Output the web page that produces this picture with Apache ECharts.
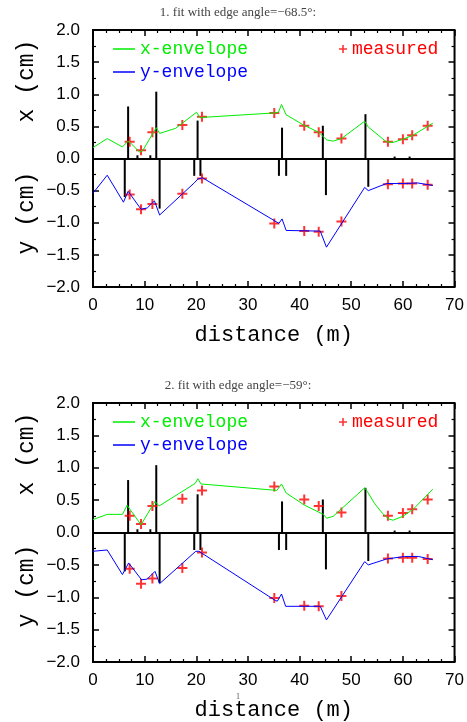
<!DOCTYPE html>
<html>
<head>
<meta charset="utf-8">
<script src="https://cdn.jsdelivr.net/npm/echarts@6/dist/echarts.min.js"></script>
<style>
    html, body { margin: 0; padding: 0; background: #fff; }
    #envelopeChart { width: 467px; height: 722px; }
</style>
</head>
<body>
<div id="envelopeChart"></div>
<script>
// magnet markers (positions in m, heights in cm)
const magnetDist = [6.8, 8.6, 11.1, 12.25, 20.25, 36.6, 44.5, 52.75, 58.4, 61.3,
                    6.15, 12.9, 19.6, 20.8, 36.0, 37.4, 45.1, 53.3];
const magnetVal = [0.81, 0.05, 0.05, 1.04, 0.59, 0.48, 0.51, 0.69, 0.03, 0.03,
                   -0.6, -0.78, -0.27, -0.27, -0.27, -0.27, -0.57, -0.44];

// measured beam sizes
const measDist = [7.1, 9.3, 11.5, 17.3, 21.1, 35.1, 40.9, 43.7, 48.1, 57.1, 60.0, 61.8, 64.8];
const measX = [0.26, 0.13, 0.41, 0.52, 0.65, 0.71, 0.51, 0.41, 0.31, 0.26, 0.30, 0.36, 0.51];
const measY = [-0.56, -0.79, -0.71, -0.55, -0.31, -1.01, -1.13, -1.14, -0.98, -0.40, -0.39, -0.39, -0.41];

// fit 1 (edge angle -68.5)
const xEnv1Dist = [0, 2.75, 5.7, 6.8, 7.3, 9.0, 9.6, 12.25, 12.9, 16, 20.05, 20.8, 21.2, 35.3, 35.9, 36.5, 37.4,
                   40.8, 43.65, 45.25, 46.5, 48.1, 52.6, 53.3, 56.8, 58.1, 60.0, 61.9, 65.8];
const xEnv1Val = [0.17, 0.31, 0.18, 0.27, 0.24, 0.1, 0.12, 0.48, 0.39, 0.47, 0.72, 0.63, 0.64, 0.71, 0.72, 0.84, 0.68,
                  0.52, 0.41, 0.29, 0.27, 0.31, 0.58, 0.49, 0.26, 0.25, 0.30, 0.36, 0.55];
const yEnv1Dist = [0, 2.75, 5.9, 6.8, 9.3, 10.5, 11.9, 12.9, 19.6, 20.3, 21.2, 36.0, 36.6, 37.4,
                   44.0, 45.2, 52.6, 53.3, 56.8, 60.3, 62.8, 65.8];
const yEnv1Val = [-0.54, -0.26, -0.68, -0.51, -0.79, -0.77, -0.66, -0.88, -0.38, -0.32, -0.3, -1.01, -0.94, -1.12,
                  -1.13, -1.38, -0.45, -0.5, -0.39, -0.39, -0.38, -0.42];

// fit 2 (edge angle -59)
const xEnv2Dist = [0, 2.75, 5.7, 6.6, 9.3, 12.0, 12.8, 19.8, 20.3, 20.9, 35.6, 36.5, 37.4, 41.0,
                   44.6, 45.25, 46.5, 52.6, 53.3, 54.5, 56.0, 57.2, 58.1, 60.0, 62.0, 65.8];
const xEnv2Val = [0.2, 0.28, 0.28, 0.42, 0.12, 0.48, 0.41, 0.76, 0.83, 0.75, 0.65, 0.75, 0.61, 0.42,
                  0.28, 0.22, 0.25, 0.69, 0.61, 0.45, 0.3, 0.21, 0.19, 0.25, 0.36, 0.67];
const yEnv2Dist = [0, 2.75, 5.7, 6.9, 9.4, 10.5, 12.0, 12.9, 19.9, 20.5, 35.3, 35.7, 36.5, 37.3,
                   44.0, 45.2, 52.6, 53.3, 56.8, 60.3, 63.0, 65.8];
const yEnv2Val = [-0.29, -0.27, -0.65, -0.47, -0.73, -0.72, -0.6, -0.79, -0.29, -0.29, -1.05, -1.06, -0.95, -1.14,
                  -1.14, -1.35, -0.45, -0.5, -0.41, -0.37, -0.37, -0.42];

const titles = ['1. fit with edge angle=\u221268.5\u00b0:', '2. fit with edge angle=\u221259\u00b0:'];

const GREEN = '#00ee00';
const BLUE = '#0000ff';
const RED = '#ff0000';
const MONO = '"Liberation Mono", "DejaVu Sans Mono", monospace';
const SANS = '"Liberation Sans", Arial, sans-serif';
const PLUS = 'path://M4,0h2v4h4v2h-4v4h-2v-4h-4v-2h4z';

const panels = [
    { top: 30, height: 257, xDist: xEnv1Dist, xVal: xEnv1Val, yDist: yEnv1Dist, yVal: yEnv1Val },
    { top: 403, height: 260, xDist: xEnv2Dist, xVal: xEnv2Val, yDist: yEnv2Dist, yVal: yEnv2Val }
];

function pairs(a, b) {
    return a.map((d, i) => [d, b[i]]);
}

// inward ticks, no axis line (the grid border draws the frame)
function tickStyle(labels, split) {
    return {
        axisLine: { show: false, onZero: false },
        axisTick: { show: true, inside: true, length: 6, lineStyle: { color: '#000', width: 1.5 } },
        minorTick: { show: true, splitNumber: split, length: 3, lineStyle: { color: '#000', width: 1.2 } },
        splitLine: { show: false },
        axisLabel: { show: labels }
    };
}

function renderChart() {
    const chart = echarts.init(document.getElementById('envelopeChart'));

    const grid = [], xAxis = [], yAxis = [], series = [], legend = [], graphic = [];

    panels.forEach((p, i) => {
        grid.push({
            left: 93, top: p.top, width: 364, height: p.height,
            show: true, borderColor: '#000', borderWidth: 2, backgroundColor: 'transparent'
        });

        const xBase = { type: 'value', gridIndex: i, min: 0, max: 70, interval: 10 };
        const xb = Object.assign({}, xBase, tickStyle(true, 4), { position: 'bottom' });
        xb.axisLabel = { color: '#000', fontFamily: SANS, fontSize: 17, margin: 10 };
        xb.name = 'distance (m)';
        xb.nameLocation = 'middle';
        xb.nameGap = 37;
        xb.nameTextStyle = { fontFamily: MONO, fontSize: 22, color: '#000' };
        const xt = Object.assign({}, xBase, tickStyle(false, 4), { position: 'top' });
        xAxis.push(xb, xt);

        const yBase = { type: 'value', gridIndex: i, min: -2, max: 2, interval: 0.5 };
        const yl = Object.assign({}, yBase, tickStyle(true, 2), { position: 'left' });
        yl.axisLabel = {
            color: '#000', fontFamily: SANS, fontSize: 17, margin: 13,
            formatter: v => v.toFixed(1).replace('-', '\u2212')
        };
        const yr = Object.assign({}, yBase, tickStyle(false, 2), { position: 'right' });
        yAxis.push(yl, yr);

        const xi = i * 2, yi = i * 2;

        series.push({
            name: 'magnets', type: 'bar', xAxisIndex: xi, yAxisIndex: yi,
            data: pairs(magnetDist, magnetVal), barWidth: 2,
            itemStyle: { color: '#000' },
            markLine: {
                silent: true, symbol: 'none', label: { show: false },
                lineStyle: { color: '#000', width: 2, type: 'solid' },
                data: [{ yAxis: 0 }]
            }
        });
        series.push({
            name: 'x-envelope', type: 'line', xAxisIndex: xi, yAxisIndex: yi,
            data: pairs(p.xDist, p.xVal), symbol: 'none',
            lineStyle: { color: GREEN, width: 1 }, itemStyle: { color: GREEN }
        });
        series.push({
            name: 'y-envelope', type: 'line', xAxisIndex: xi, yAxisIndex: yi,
            data: pairs(p.yDist, p.yVal), symbol: 'none',
            lineStyle: { color: BLUE, width: 1 }, itemStyle: { color: BLUE }
        });
        series.push({
            name: 'measured', type: 'scatter', xAxisIndex: xi, yAxisIndex: yi,
            data: pairs(measDist, measX).concat(pairs(measDist, measY)),
            symbol: PLUS, symbolSize: 10, itemStyle: { color: RED }
        });

        legend.push({
            left: 108, top: p.top + 5, orient: 'vertical', itemGap: 5,
            icon: 'rect', itemWidth: 22, itemHeight: 1.5, selectedMode: false,
            textStyle: { fontFamily: MONO, fontSize: 18 },
            data: [
                { name: 'x-envelope', textStyle: { color: GREEN } },
                { name: 'y-envelope', textStyle: { color: BLUE } }
            ]
        });
        legend.push({
            left: 334, top: p.top + 5, icon: PLUS, itemWidth: 8, itemHeight: 8, selectedMode: false,
            textStyle: { fontFamily: MONO, fontSize: 18 },
            data: [{ name: 'measured', textStyle: { color: RED } }]
        });

        graphic.push({
            type: 'text', x: 238, y: p.top - 17,
            style: { text: titles[i], fill: '#444', font: '13px "Liberation Serif", serif',
                     textAlign: 'center', textVerticalAlign: 'middle' }
        });
        graphic.push({
            type: 'text', x: 27, y: p.top + 51, rotation: Math.PI / 2,
            style: { text: 'x (cm)', fill: '#000', font: '23px ' + MONO,
                     textAlign: 'center', textVerticalAlign: 'middle' }
        });
        graphic.push({
            type: 'text', x: 27, y: p.top + 183, rotation: Math.PI / 2,
            style: { text: 'y (cm)', fill: '#000', font: '23px ' + MONO,
                     textAlign: 'center', textVerticalAlign: 'middle' }
        });
    });

    // page number under the second panel
    graphic.push({
        type: 'text', x: 238, y: 697,
        style: { text: '1', fill: '#666', font: '9px "Liberation Serif", serif',
                 textAlign: 'center', textVerticalAlign: 'middle' }
    });

    const option = {
        animation: false,
        backgroundColor: '#fff',
        grid: grid,
        xAxis: xAxis,
        yAxis: yAxis,
        legend: legend,
        graphic: graphic,
        series: series
    };

    chart.setOption(option);
}

document.addEventListener('DOMContentLoaded', renderChart);
</script>
</body>
</html>
